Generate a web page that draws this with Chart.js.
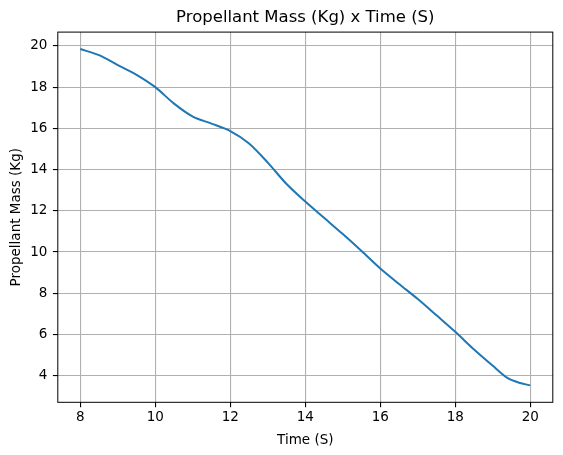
<!DOCTYPE html>
<html>
<head>
<meta charset="utf-8">
<script src="https://cdn.jsdelivr.net/npm/chart.js@4"></script>
<style>
  html, body { margin: 0; padding: 0; background: #fff; }
  #wrap { width: 563px; height: 455px; }
</style>
</head>
<body>
<div id="wrap"><canvas id="massChart" width="563" height="455"></canvas></div>
<script>
// data
const times = [8, 8.5, 9, 9.5, 10, 10.5, 11, 11.5, 12, 12.5, 13, 13.5, 14, 14.5, 15, 15.5, 16, 16.5, 17, 17.5, 18, 18.5, 19, 19.4, 19.7, 20];
const masses = [19.85, 19.55, 19.07, 18.6, 18.0, 17.2, 16.57, 16.23, 15.87, 15.27, 14.34, 13.3, 12.45, 11.66, 10.87, 10.05, 9.2, 8.45, 7.72, 6.93, 6.13, 5.27, 4.48, 3.88, 3.66, 3.53];
const xTicks = [8, 10, 12, 14, 16, 18, 20];
const yTicks = [4, 6, 8, 10, 12, 14, 16, 18, 20];

const font = 'DejaVu Sans';

// matplotlib style box around the axes
const frame = {
    id: 'frame',
    afterDraw(chart) {
        const a = chart.chartArea, c = chart.ctx;
        c.save();
        c.strokeStyle = '#000';
        c.lineWidth = 1;
        c.strokeRect(a.left, a.top, a.right - a.left, a.bottom - a.top);
        c.restore();
    }
};

const ctx = document.getElementById('massChart').getContext('2d');
new Chart(ctx, {
    type: 'line',
    data: {
        datasets: [{
            data: times.map((t, i) => ({ x: t, y: masses[i] })),
            borderColor: '#1f77b4',
            borderWidth: 2,
            pointRadius: 0,
            tension: 0.3,
            fill: false
        }]
    },
    options: {
        responsive: false,
        animation: false,
        layout: { padding: { left: 0, right: 10.2, top: 0, bottom: 0 } },
        plugins: {
            legend: { display: false },
            tooltip: { enabled: false },
            title: {
                display: true,
                fullSize: false,
                text: 'Propellant Mass (Kg) x Time (S)',
                color: '#000',
                font: { family: font, size: 16.5, weight: 'normal' },
                padding: { top: 8, bottom: 4.3 }
            }
        },
        scales: {
            x: {
                type: 'linear',
                min: 7.4,
                max: 20.6,
                afterBuildTicks(s) { s.ticks = xTicks.map(v => ({ value: v })); },
                afterFit(s) { s.height = 52.7; },
                grid: { color: '#b0b0b0', lineWidth: 1.1, tickColor: '#000', tickLength: 4.9 },
                border: { display: false },
                ticks: { color: '#000', font: { family: font, size: 13.5 }, padding: 1.8, maxRotation: 0 },
                title: { display: true, text: 'Time (S)', color: '#000', font: { family: font, size: 13.5 }, padding: { top: 2, bottom: 6 } }
            },
            y: {
                type: 'linear',
                min: 2.71,
                max: 20.67,
                afterBuildTicks(s) { s.ticks = yTicks.map(v => ({ value: v })); },
                afterFit(s) { s.width = 57.8; },
                grid: { color: '#b0b0b0', lineWidth: 1.1, tickColor: '#000', tickLength: 4.9 },
                border: { display: false },
                ticks: { color: '#000', font: { family: font, size: 13.5 }, padding: 5.5 },
                title: { display: true, text: 'Propellant Mass (Kg)', color: '#000', font: { family: font, size: 13.5 }, padding: { top: 8, bottom: 0 } }
            }
        }
    },
    plugins: [frame]
});
</script>
</body>
</html>
